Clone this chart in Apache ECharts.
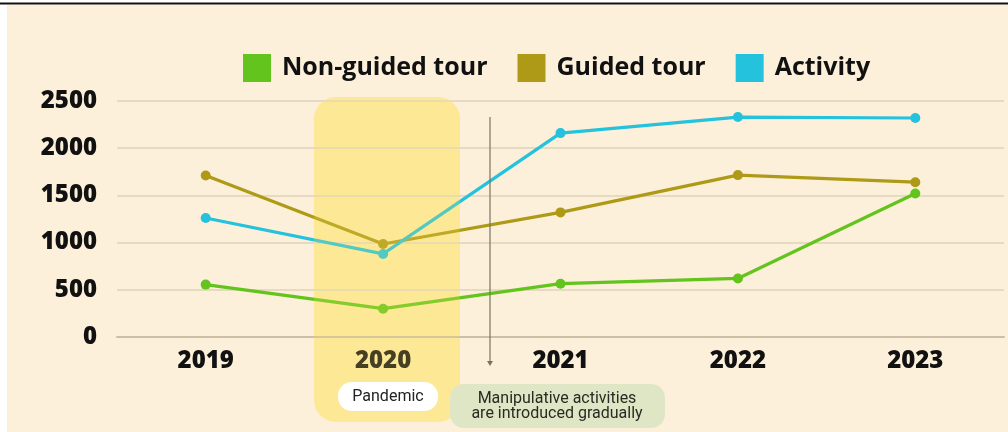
<!DOCTYPE html>
<html><head><meta charset="utf-8">
<script src="https://cdn.jsdelivr.net/npm/echarts@6/dist/echarts.min.js"></script>
<style>html,body{margin:0;padding:0;background:#fff}#c{width:1008px;height:432px}</style>
</head><body><div id="c"></div>
<script>
const years = ['2019','2020','2021','2022','2023'];
const nonGuided = [555, 300, 565, 620, 1520];
const guided = [1710, 985, 1320, 1715, 1640];
const activity = [1260, 880, 2160, 2330, 2320];
const yTicks = [0, 500, 1000, 1500, 2000, 2500];
const seriesNames = ['Non-guided tour', 'Guided tour', 'Activity'];
const colors = ['#62c41c', '#ae9a16', '#24c2dc'];

const chart = echarts.init(document.getElementById('c'), null, {renderer:'canvas'});
const FONT = 'Open Sans';
const mk = (name, data, color) => ({
  name, type:'line', data, color,
  symbol:'circle', symbolSize:10,
  lineStyle:{width:3.2, color},
  itemStyle:{color},
  z: 3
});
chart.setOption({
  animation:false,
  backgroundColor:'#ffffff',
  textStyle:{fontFamily:FONT},
  legend:{
    left:238, top:49, itemWidth:28, itemHeight:28, itemGap:30, icon:'rect',
    data: seriesNames,
    textStyle:{fontSize:25, fontWeight:'bold', color:'#111', fontFamily:FONT, padding:[0,0,0,6]}
  },
  grid:{left:117, right:4, top:101, bottom:95},
  xAxis:{
    type:'category', data:years, boundaryGap:true,
    axisLine:{show:true, lineStyle:{color:'#cbbfa8', width:2}},
    axisTick:{show:false},
    axisLabel:{fontSize:24, fontWeight:800, color:'#111', margin:12, fontFamily:FONT}
  },
  yAxis:{
    type:'value', min:yTicks[0], max:yTicks[yTicks.length-1], interval:500,
    axisLine:{show:false}, axisTick:{show:false},
    splitLine:{lineStyle:{color:'#e6dac3', width:2}},
    axisLabel:{fontSize:24, fontWeight:800, color:'#111', margin:20, fontFamily:FONT,
      formatter: v => String(v)}
  },
  series:[
    mk(seriesNames[0], nonGuided, colors[0]),
    mk(seriesNames[1], guided, colors[1]),
    mk(seriesNames[2], activity, colors[2])
  ],
  graphic:[
    {type:'rect', z:-10, silent:true, shape:{x:0,y:0,width:1008,height:4}, style:{fill:'#ffffff'}},
    {type:'rect', z:-10, silent:true, shape:{x:7,y:5,width:1001,height:427}, style:{fill:'#fcf0da'}},
    {type:'line', z:10, silent:true, shape:{x1:0,y1:3.5,x2:1008,y2:3.5}, style:{stroke:'#111', lineWidth:2}},
    {type:'rect', z:-5, silent:true, shape:{x:314,y:97,width:146,height:325,r:22}, style:{fill:'rgba(255,226,100,0.45)'}},
    {type:'rect', z:20, silent:true, shape:{x:314,y:97,width:146,height:325,r:22}, style:{fill:'rgba(255,226,100,0.22)'}},
    {type:'rect', z:21, silent:true, shape:{x:338,y:382,width:100,height:29,r:14}, style:{fill:'#ffffff'}},
    {type:'text', z:22, silent:true, style:{text:'Pandemic', x:388, y:397, align:'center', verticalAlign:'middle', fontSize:16, fill:'#222', fontFamily:'Roboto'}},
    {type:'line', z:20, silent:true, shape:{x1:490,y1:117,x2:490,y2:363}, style:{stroke:'#77755e', lineWidth:1.2}},
    {type:'polygon', z:20, silent:true, shape:{points:[[487,361],[493,361],[490,366]]}, style:{fill:'#77755e'}},
    {type:'rect', z:20, silent:true, shape:{x:450,y:384,width:215,height:44,r:14}, style:{fill:'#dfe6c6'}},
    {type:'text', z:22, silent:true, style:{text:'Manipulative activities\nare introduced gradually', x:557, y:406, align:'center', verticalAlign:'middle', fontSize:16, lineHeight:15, fill:'#2a2a22', fontFamily:'Roboto'}}
  ]
});
</script></body></html>
